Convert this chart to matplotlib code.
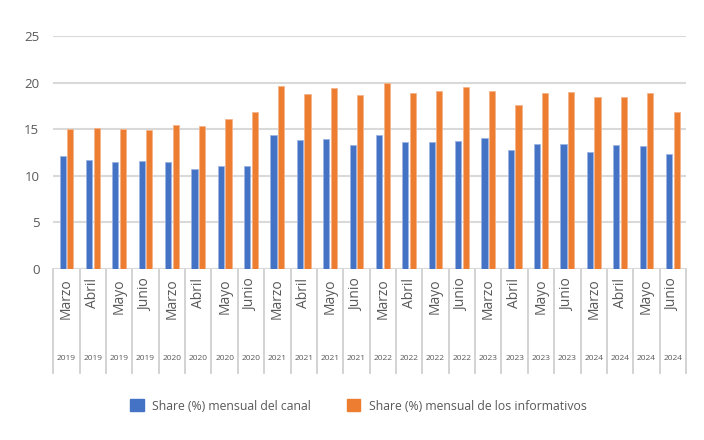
import matplotlib
matplotlib.use("Agg")
import matplotlib.pyplot as plt
import matplotlib.transforms as mtransforms
from matplotlib.patches import Patch
import numpy as np

months = ["Marzo", "Abril", "Mayo", "Junio"] * 6
years = ["2019"] * 4 + ["2020"] * 4 + ["2021"] * 4 + ["2022"] * 4 + ["2023"] * 4 + ["2024"] * 4
canal = [12.1, 11.7, 11.5, 11.6, 11.5, 10.7, 11.0, 11.1, 14.4, 13.8, 14.0, 13.3,
         14.4, 13.6, 13.6, 13.7, 14.1, 12.8, 13.4, 13.4, 12.5, 13.3, 13.2, 12.3]
informativos = [15.0, 15.1, 15.0, 14.9, 15.5, 15.3, 16.1, 16.8, 19.6, 18.8, 19.4, 18.7,
                20.0, 18.9, 19.1, 19.5, 19.1, 17.6, 18.9, 19.0, 18.5, 18.5, 18.9, 16.8]
labels = ["Share (%) mensual del canal", "Share (%) mensual de los informativos"]
yticks = [0, 5, 10, 15, 20, 25]

BLUE = "#4472C4"
ORANGE = "#ED7D31"
TXT = "#595959"
GRID = "#d9d9d9"
FONT = ["Open Sans", "DejaVu Sans"]

plt.rcParams["font.family"] = FONT

fig = plt.figure(figsize=(7.04, 4.4), dpi=100)
ax = fig.add_axes([53.3 / 704, 1 - 269 / 440, (686 - 53.3) / 704, (269 - 36) / 440])

x = np.arange(len(months))
w = 0.235
off = 0.145
ax.bar(x - off, canal, width=w, color=BLUE, edgecolor="#9db5e0", linewidth=0.6, zorder=3)
ax.bar(x + off, informativos, width=w, color=ORANGE, edgecolor="#f6b48a", linewidth=0.6, zorder=3)

ax.set_xlim(-0.5, len(months) - 0.5)
ax.set_ylim(0, 25)
ax.set_yticks(yticks)
ax.set_yticklabels([str(v) for v in yticks], fontsize=9.5, color=TXT)
ax.tick_params(axis="y", length=0, pad=10)
ax.set_xticks([])
ax.grid(axis="y", color=GRID, linewidth=1.5, zorder=0)
for s in ax.spines.values():
    s.set_visible(False)
ax.axhline(0, color=GRID, linewidth=1.5, zorder=2)

trans = mtransforms.blended_transform_factory(ax.transData, ax.transAxes)
axh = 233.0
for i in range(len(months) + 1):
    ax.plot([i - 0.5, i - 0.5], [0, -104 / axh], transform=trans, color="#d0d0d0",
            linewidth=1.3, clip_on=False, zorder=1)

for i, (m, yv) in enumerate(zip(months, years)):
    ax.text(i, -9 / axh, m, transform=trans, rotation=90, ha="center", va="top",
            fontsize=10, color=TXT)
    ax.text(i, -89 / axh, yv, transform=trans, ha="center", va="center",
            fontsize=6, color=TXT)

handles = [Patch(facecolor=BLUE, edgecolor=BLUE), Patch(facecolor=ORANGE, edgecolor=ORANGE)]
leg = fig.legend(handles, labels, loc="center", bbox_to_anchor=(0.509, 1 - 406 / 440),
                 ncol=2, frameon=False, fontsize=8.8, handlelength=1.1, handleheight=1.1,
                 columnspacing=2.9, handletextpad=0.7)
for t in leg.get_texts():
    t.set_color(TXT)

fig.savefig("out.png", dpi=100)
